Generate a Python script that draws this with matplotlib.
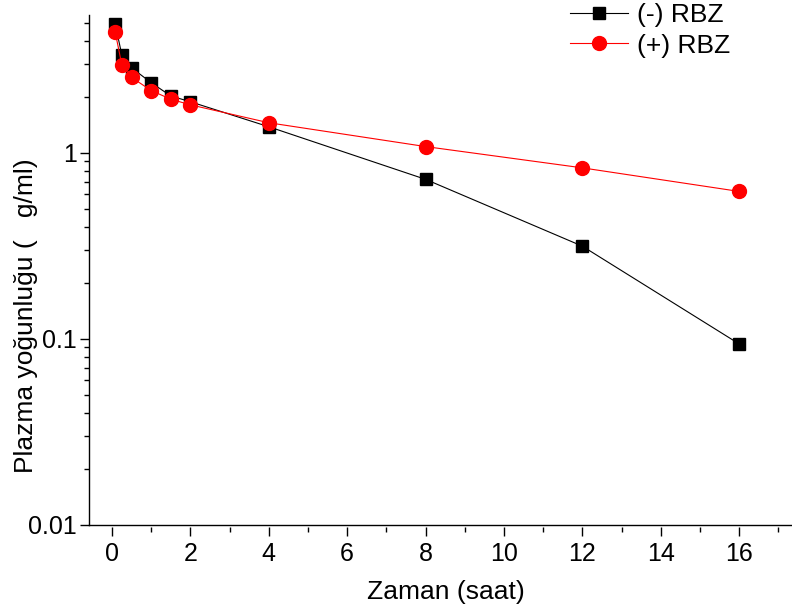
# plasma concentration vs time, with and without RBZ (log scale)
import numpy as np
import matplotlib
matplotlib.use("Agg")
import matplotlib.pyplot as plt
from matplotlib.ticker import LogLocator, FixedLocator, FuncFormatter, MultipleLocator, NullFormatter

plt.rcParams['font.family'] = ['Liberation Sans', 'DejaVu Sans']

time_h = [0.083, 0.25, 0.5, 1, 1.5, 2, 4, 8, 12, 16]
minus_rbz = [4.9, 3.36, 2.86, 2.38, 2.02, 1.88, 1.38, 0.72, 0.315, 0.094]
plus_rbz = [4.44, 2.97, 2.54, 2.16, 1.94, 1.81, 1.45, 1.08, 0.83, 0.62]

fig = plt.figure(figsize=(7.92, 6.15), dpi=100)
ax = fig.add_axes([89/792, 90/615, 703/792, 510/615])

ax.plot(time_h, minus_rbz, color='black', marker='s', markersize=8.8, linewidth=0.8,
        label='(-) RBZ', clip_on=False, zorder=3)
ax.plot(time_h, plus_rbz, color='red', marker='o', markersize=10, linewidth=0.8,
        label='(+) RBZ', clip_on=False, zorder=4)

ax.set_yscale('log')
ax.set_xlim(-0.587, 17.35)
ax.set_ylim(0.01, 5.5)

# axis look: only left and bottom, ticks outward, x ticks slightly detached
ax.spines['top'].set_visible(False)
ax.spines['right'].set_visible(False)
ax.spines['bottom'].set_position(('outward', 1.5))
ax.spines['bottom'].set_visible(False)
ax.axhline(0.01, color='black', linewidth=1.0, clip_on=False, zorder=5)
ax.spines['left'].set_linewidth(1.0)

ax.xaxis.set_major_locator(MultipleLocator(2))
ax.xaxis.set_minor_locator(MultipleLocator(1))
ax.yaxis.set_major_locator(FixedLocator([0.01, 0.1, 1]))
ax.yaxis.set_minor_locator(LogLocator(base=10, subs=np.arange(2, 10)))
ax.yaxis.set_major_formatter(FuncFormatter(lambda v, p: f"{v:g}"))
ax.yaxis.set_minor_formatter(NullFormatter())

ax.tick_params(axis='both', which='major', direction='out', length=6.5, width=1.0,
               labelsize=18, pad=2)
ax.tick_params(axis='both', which='minor', direction='out', length=3.5, width=1.0)
ax.tick_params(axis='x', which='major', pad=4)

ax.set_xlabel('Zaman (saat)', fontsize=19)
ax.set_ylabel('Plazma yoğunluğu (   g/ml)', fontsize=19)
ax.xaxis.set_label_coords(0.508, -0.108)
ax.yaxis.set_label_coords(-0.072, 0.41)

ax.legend(loc='upper left', bbox_to_anchor=(570/792, 1 - 3/615), bbox_transform=fig.transFigure,
          frameon=False, fontsize=19, handlelength=2.2, handletextpad=0.33,
          labelspacing=0.25, borderpad=0, borderaxespad=0)

fig.savefig('out.png', dpi=100)
